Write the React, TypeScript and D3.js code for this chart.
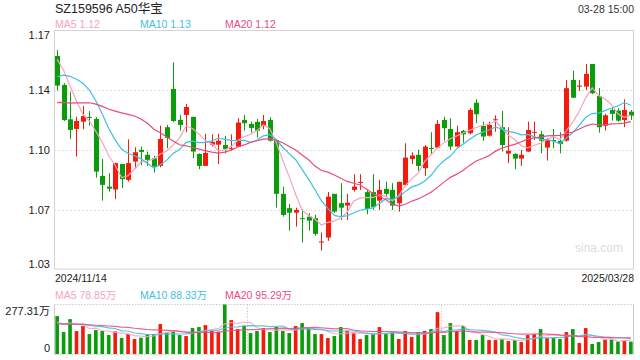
import React from 'react'
import * as d3 from 'd3'

const width = 640
const height = 360

// daily OHLC, 2024/11/14 .. 2025/03/28
const opens = [
  1.156, 1.1392, 1.1193, 1.1137, 1.1179, 1.1207, 1.1195, 1.0865, 1.0803, 1.0786,
  1.0934, 1.0842, 1.0948, 1.1016, 1.0987, 1.0967, 1.0923, 1.1147, 1.1369, 1.1189,
  1.1218, 1.1207, 1.0992, 1.0923, 1.1046, 1.1046, 1.1044, 1.102, 1.1035, 1.1189,
  1.1166, 1.1178, 1.1154, 1.1189, 1.1073, 1.0761, 1.0678, 1.0652, 1.062, 1.0629,
  1.062, 1.0481, 1.0508, 1.0761, 1.0707, 1.0693, 1.0784, 1.0826, 1.0771, 1.0771,
  1.0722, 1.079, 1.0784, 1.0707, 1.0813, 1.0963, 1.0987, 1.091, 1.1027, 1.1029,
  1.1189, 1.1137, 1.1035, 1.1126, 1.1112, 1.1289, 1.1154, 1.1098, 1.1189, 1.1147,
  1.0994, 1.0992, 1.0965, 1.1006, 1.1116, 1.1106, 1.1029, 1.1073, 1.1068, 1.1069,
  1.1421, 1.1382, 1.1382, 1.1513, 1.1328, 1.1156, 1.1247, 1.1243, 1.1189, 1.1237,
]
const highs = [
  1.1594, 1.1402, 1.1353, 1.1208, 1.127, 1.124, 1.1205, 1.0963, 1.0881, 1.0942,
  1.0934, 1.1077, 1.1031, 1.1035, 1.1006, 1.0981, 1.1156, 1.116, 1.1523, 1.1218,
  1.1282, 1.1207, 1.0996, 1.1108, 1.1106, 1.1108, 1.1097, 1.1106, 1.1199, 1.1218,
  1.1179, 1.1195, 1.1218, 1.1205, 1.1077, 1.0803, 1.0703, 1.0681, 1.0672, 1.0649,
  1.0639, 1.0537, 1.0772, 1.0761, 1.0823, 1.0761, 1.0875, 1.0875, 1.0784, 1.0875,
  1.0842, 1.0832, 1.0823, 1.0832, 1.1054, 1.1002, 1.1016, 1.1043, 1.1118, 1.1189,
  1.1208, 1.1199, 1.1156, 1.1131, 1.1257, 1.1309, 1.1179, 1.1179, 1.1216, 1.1241,
  1.1147, 1.0996, 1.1016, 1.1179, 1.1179, 1.1126, 1.1083, 1.1137, 1.1118, 1.1421,
  1.1473, 1.1421, 1.1513, 1.1513, 1.1373, 1.1224, 1.1257, 1.1257, 1.1309, 1.1247,
]
const lows = [
  1.1359, 1.1183, 1.1078, 1.0977, 1.1135, 1.1156, 1.0855, 1.0722, 1.0774, 1.073,
  1.0794, 1.0832, 1.0906, 1.0927, 1.0923, 1.0884, 1.0915, 1.1025, 1.1176, 1.1127,
  1.1118, 1.0967, 1.0904, 1.0923, 1.1035, 1.0934, 1.0996, 1.101, 1.1031, 1.1127,
  1.1116, 1.1087, 1.1135, 1.1064, 1.0681, 1.0629, 1.0548, 1.0571, 1.0479, 1.0548,
  1.0518, 1.0432, 1.0489, 1.0652, 1.061, 1.061, 1.0774, 1.0784, 1.0643, 1.0668,
  1.0668, 1.0745, 1.0668, 1.0658, 1.0809, 1.0934, 1.0894, 1.0865, 1.0991, 1.1025,
  1.1069, 1.1016, 1.1031, 1.1058, 1.1106, 1.117, 1.1068, 1.1093, 1.1121, 1.1006,
  1.0939, 1.0904, 1.0923, 1.1004, 1.1073, 1.0996, 1.0954, 1.1025, 1.0996, 1.1064,
  1.1315, 1.1357, 1.1363, 1.1338, 1.1116, 1.1127, 1.1185, 1.1179, 1.1147, 1.1189,
]
const closes = [
  1.1388, 1.1189, 1.1131, 1.1183, 1.1212, 1.1201, 1.089, 1.0813, 1.0791, 1.0939,
  1.0846, 1.0939, 1.1002, 1.1004, 1.0958, 1.0919, 1.1079, 1.1085, 1.1183, 1.116,
  1.1264, 1.1006, 1.0923, 1.0998, 1.1062, 1.1069, 1.102, 1.1025, 1.1174, 1.117,
  1.1143, 1.1127, 1.1183, 1.1069, 1.0761, 1.0639, 1.0652, 1.0668, 1.0616, 1.0606,
  1.0529, 1.0485, 1.0745, 1.0658, 1.0681, 1.071, 1.0803, 1.083, 1.0674, 1.0684,
  1.0784, 1.0761, 1.0693, 1.083, 1.0971, 1.0983, 1.0923, 1.1035, 1.1023, 1.1166,
  1.1141, 1.1035, 1.1118, 1.1106, 1.1247, 1.1222, 1.1093, 1.116, 1.1193, 1.1044,
  1.101, 1.0965, 1.0987, 1.1131, 1.112, 1.1069, 1.1073, 1.1068, 1.1049, 1.1373,
  1.1318, 1.1388, 1.1456, 1.1344, 1.1147, 1.1216, 1.1224, 1.1185, 1.1247, 1.1214,
]
// volume, 万
const volumes = [
  213.5, 125.9, 197.0, 131.4, 158.7, 114.9, 136.8, 131.4, 109.5, 129.5,
  93.0, 114.9, 87.6, 94.9, 113.1, 114.9, 169.7, 124.1, 131.4, 109.5,
  104.0, 147.8, 153.3, 164.2, 131.4, 127.7, 277.31, 191.6, 142.3, 160.5,
  120.4, 131.4, 147.8, 125.9, 155.1, 131.4, 120.4, 158.7, 175.1, 149.6,
  114.9, 114.9, 93.0, 104.0, 153.3, 133.2, 122.2, 87.6, 109.5, 116.8,
  153.3, 116.8, 124.1, 87.6, 131.4, 98.5, 125.9, 131.4, 142.3, 235.3,
  109.5, 175.1, 131.4, 158.7, 82.1, 82.1, 109.5, 82.1, 82.1, 87.6,
  76.6, 82.1, 71.2, 109.5, 114.9, 142.3, 93.0, 93.0, 87.6, 125.9,
  142.3, 65.7, 147.8, 60.2, 71.2, 84.5, 84.5, 73.5, 79.0, 73.5,
]
// the 19 sessions before the window, only used for the moving averages
const priorCloses = [
  1.118, 1.121, 1.116, 1.12, 1.119, 1.105, 1.108, 1.112, 1.115, 1.106,
  1.11, 1.12, 1.135, 1.145, 1.16, 1.15, 1.158, 1.163, 1.16,
]
const priorVolumes = [
  182, 165, 171, 158, 176, 190, 168, 160, 174, 162,
  155, 181, 169, 172, 160, 178, 166, 171, 175,
]

const title = 'SZ159596 A50华宝'
const timeLabel = '03-28 15:00'
const yTickLabels = ['1.17', '1.14', '1.10', '1.07', '1.03']
const priceLegend = ['1.12', '1.13', '1.12']
const volumeLegend = ['78.85万', '88.33万', '95.29万']
const volumeMaxLabel = '277.31万'
const dateLabels = ['2024/11/14', '2025/03/28']

const maPeriods = [5, 10, 20]
const maColors = ['#f9a2bf', '#3cc2e2', '#ea4a7f']
const upColor = '#f21b0c'
const downColor = '#0a9c0a'
const font = '"Liberation Sans", Arial, "Noto Sans CJK SC", sans-serif'

const left = 54
const right = 634
const top = 30
const bottom = 270
const volTop = 304.5
const volBottom = 355
const yMax = 1.171
const yMin = 1.032

function movingAverage(prior: number[], values: number[], p: number) {
  const all = prior.concat(values)
  const off = prior.length
  return values.map((_, i) => d3.mean(all.slice(i + off - p + 1, i + off + 1)) as number)
}

export default function App() {
  const n = closes.length
  const x = d3.scaleBand<number>().domain(d3.range(n)).range([left, right]).paddingInner(0.22).paddingOuter(0.1)
  const bw = x.bandwidth()
  const cx = (i: number) => (x(i) as number) + bw / 2
  const y = d3.scaleLinear().domain([yMin, yMax]).range([bottom, top])
  const yv = d3.scaleLinear().domain([0, 277.31]).range([volBottom, volTop])

  const ticks = d3.range(5).map(i => yMax - (i * (yMax - yMin)) / 4)
  const priceMA = maPeriods.map(p => movingAverage(priorCloses, closes, p))
  const volMA = maPeriods.map(p => movingAverage(priorVolumes, volumes, p))

  const priceLine = d3.line<number>().x((_, i) => cx(i)).y(d => y(d))
  const volLine = d3.line<number>().x((_, i) => cx(i)).y(d => yv(d))

  return (
    <svg width={width} height={height} style={{ display: 'block', position: 'absolute', left: 0, top: 0 }} fontFamily={font}>
      <rect width={width} height={height} fill="#fff" />
      <text x={55} y={13} fontSize={12.5} fill="#222">{title}</text>
      <text x={right} y={13} fontSize={10.5} fill="#333" textAnchor="end">{timeLabel}</text>
      {maPeriods.map((p, k) => (
        <text key={p} x={55 + k * 85} y={28} fontSize={10.5} fill={maColors[k]}>
          {`MA${p} ${priceLegend[k]}`}
        </text>
      ))}

      {/* price panel */}
      {ticks.slice(1, 4).map(t => (
        <line key={t} x1={left} x2={right} y1={Math.round(y(t)) + 0.5} y2={Math.round(y(t)) + 0.5}
          stroke="#ddd" strokeDasharray="2 2" />
      ))}
      <rect x={left + 0.5} y={top + 0.5} width={right - left - 1} height={bottom - top - 1.5} fill="none" stroke="#d4d4d4" />
      {ticks.map((t, k) => (
        <text key={k} x={50} y={k === 0 ? y(t) + 8.5 : k === 4 ? y(t) - 2.5 : y(t) + 4}
          fontSize={11} fill="#222" textAnchor="end">
          {yTickLabels[k]}
        </text>
      ))}
      <text x={623} y={252} fontSize={12} fill="#dcdcdc" textAnchor="end">sina.com</text>

      {closes.map((c, i) => {
        const o = opens[i]
        const color = c >= o ? upColor : downColor
        const yTop = y(Math.max(o, c))
        const yBot = y(Math.min(o, c))
        const xc = Math.round(cx(i)) + 0.5
        return (
          <g key={i}>
            <line x1={xc} x2={xc} y1={y(highs[i])} y2={y(lows[i])} stroke={color} strokeWidth={1} />
            <rect x={xc - bw / 2} y={yTop} width={bw} height={Math.max(1, yBot - yTop)} fill={color} />
          </g>
        )
      })}
      {priceMA.map((d, k) => (
        <path key={k} d={priceLine(d) || ''} fill="none" stroke={maColors[k]} strokeWidth={1.2} />
      ))}

      {dateLabels.map((t, k) => (
        <text key={t} x={k === 0 ? 55 : right} y={281.5} fontSize={10.5} fill="#222" textAnchor={k === 0 ? 'start' : 'end'}>
          {t}
        </text>
      ))}

      {/* volume panel */}
      {maPeriods.map((p, k) => (
        <text key={p} x={55 + k * 85} y={299} fontSize={10.5} fill={maColors[k]}>
          {`MA${p} ${volumeLegend[k]}`}
        </text>
      ))}
      <text x={50} y={315} fontSize={11} fill="#222" textAnchor="end">{volumeMaxLabel}</text>
      <text x={50} y={351.5} fontSize={11} fill="#222" textAnchor="end">0</text>
      <line x1={left} x2={right} y1={volTop} y2={volTop} stroke="#ccc" strokeDasharray="1.5 1.5" />
      <line x1={left} x2={right} y1={volBottom - 0.5} y2={volBottom - 0.5} stroke="#ccc" strokeDasharray="1.5 1.5" />
      {[1, 2].map(k => {
        const xx = Math.round(left + ((right - left) * k) / 3) + 0.5
        return <line key={k} x1={xx} x2={xx} y1={volTop} y2={volBottom} stroke="#ccc" strokeDasharray="1.5 1.5" />
      })}
      <line x1={left + 0.5} x2={left + 0.5} y1={volTop} y2={volBottom} stroke="#ccc" />
      <line x1={right - 0.5} x2={right - 0.5} y1={volTop} y2={volBottom} stroke="#ccc" />
      {volumes.map((v, i) => {
        const color = closes[i] >= opens[i] ? upColor : downColor
        const w = bw * 0.72
        return <rect key={i} x={cx(i) - w / 2} y={yv(v)} width={w} height={volBottom - 1 - yv(v)} fill={color} />
      })}
      {volMA.map((d, k) => (
        <path key={k} d={volLine(d) || ''} fill="none" stroke={maColors[k]} strokeWidth={1.2} opacity={0.85} />
      ))}
    </svg>
  )
}
